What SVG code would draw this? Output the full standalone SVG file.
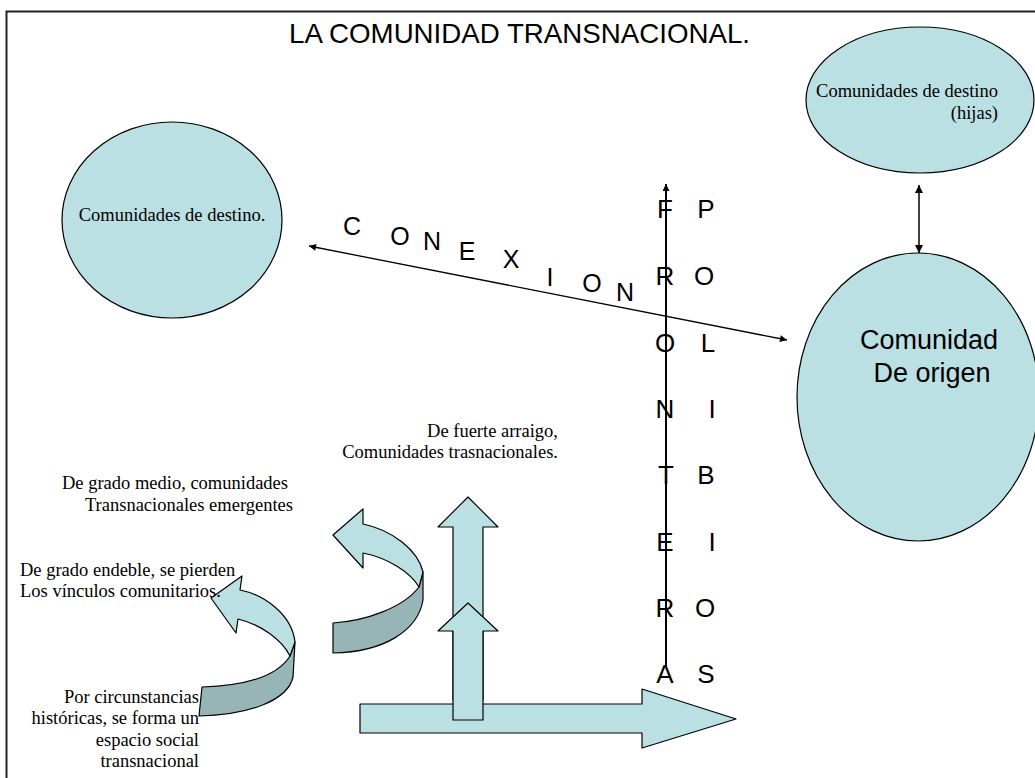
<svg xmlns="http://www.w3.org/2000/svg" width="1035" height="778" viewBox="0 0 1035 778">
<defs>
<style>
.serif{font-family:"Liberation Serif","Times New Roman",serif;font-size:18.5px;fill:#000}
.sans{font-family:"Liberation Sans",Arial,sans-serif;fill:#000}
.big{font-size:26px;text-anchor:middle}
.node{fill:#BBE0E3;stroke:#000;stroke-width:1.2}
.dark{fill:#97B4B7;stroke:#000;stroke-width:1.2;stroke-linejoin:round}
.light{fill:#BBE0E3;stroke:#000;stroke-width:1.2;stroke-linejoin:round}
.conn{stroke:#000;fill:none}
</style>
<marker id="ah" viewBox="0 0 10 10" refX="10" refY="5" markerWidth="10" markerHeight="8" markerUnits="userSpaceOnUse" orient="auto-start-reverse">
<path d="M0,0 L10,5 L0,10 Z" fill="#000"/>
</marker>
<marker id="ahs" viewBox="0 0 10 10" refX="10" refY="5" markerWidth="9" markerHeight="7" markerUnits="userSpaceOnUse" orient="auto-start-reverse">
<path d="M0,0 L10,5 L0,10 Z" fill="#000"/>
</marker>
</defs>
<rect width="1035" height="778" fill="#fff"/>
<rect x="6.5" y="11.5" width="1100" height="850" fill="none" stroke="#222" stroke-width="2"/>
<text class="sans" x="289" y="43" font-size="27.7">LA COMUNIDAD TRANSNACIONAL.</text>

<g id="destino">
<ellipse class="node" cx="172" cy="220" rx="110" ry="98"/>
<text class="serif" x="172" y="221" text-anchor="middle">Comunidades de destino.</text>
</g>
<g id="hijas">
<ellipse class="node" cx="920" cy="100" rx="114" ry="73"/>
<text class="serif" x="998" y="97" text-anchor="end">Comunidades de destino</text>
<text class="serif" x="998" y="119" text-anchor="end">(hijas)</text>
</g>
<g id="origen">
<ellipse class="node" cx="918" cy="397" rx="121" ry="144"/>
<text class="sans" x="929" y="349" font-size="27" text-anchor="middle">Comunidad</text>
<text class="sans" x="932" y="382" font-size="27" text-anchor="middle">De origen</text>
</g>

<g id="conexion" class="sans" font-size="25" text-anchor="middle">
<text x="352" y="235">C</text>
<text x="400" y="245">O</text>
<text x="432" y="250">N</text>
<text x="467" y="260">E</text>
<text x="511" y="268">X</text>
<text x="550" y="286">I</text>
<text x="592" y="292">O</text>
<text x="625" y="301">N</text>
</g>
<g id="fronteras" class="sans big">
<text x="665" y="218">F</text>
<text x="665" y="285">R</text>
<text x="665" y="352">O</text>
<text x="665" y="418">N</text>
<text x="666" y="484">T</text>
<text x="665" y="551">E</text>
<text x="665" y="617">R</text>
<text x="665" y="683">A</text>
</g>
<g id="polibios" class="sans big">
<text x="706" y="218">P</text>
<text x="704" y="285">O</text>
<text x="708" y="352">L</text>
<text x="712" y="418">I</text>
<text x="706" y="484">B</text>
<text x="712" y="551">I</text>
<text x="705" y="617">O</text>
<text x="706" y="683">S</text>
</g>

<g id="connectors">
<line class="conn" x1="309" y1="246" x2="787" y2="340" stroke-width="1.3" marker-start="url(#ahs)" marker-end="url(#ahs)"/>
<line class="conn" x1="919" y1="185" x2="919" y2="253" stroke-width="1.5" marker-start="url(#ah)" marker-end="url(#ah)"/>
<line class="conn" x1="666" y1="667" x2="666" y2="184" stroke-width="2" marker-end="url(#ahs)"/>
</g>

<g id="arrow-horizontal">
<polygon class="light" points="360,704 642,704 642,689 736,719 642,748 642,733 360,733"/>
</g>
<g id="arrow-up-high">
<polygon class="light" points="468,497 498,527 483,527 483,700 453,700 453,527 438,527"/>
</g>
<g id="arrow-up-low">
<polygon class="light" points="468,603 498,631 483,631 483,720 453,720 453,631 438,631"/>
</g>
<g id="curved-medio">
<path class="dark" d="M333,623 C365,621 403,608 419,587 L423,572 L423,600 C418,630 385,652 333,653 Z"/>
<path class="light" d="M333,535 L363,509 L363,524 C392,530 418,550 423,572 L419,587 C410,572 388,558 363,553 L363,568 Z"/>
</g>
<g id="curved-endeble">
<path class="dark" d="M202,687 C235,686 275,680 290,656 L295,642 L293,677 C288,700 250,715 199,716 Z"/>
<path class="light" d="M211,598 L242,576 L240,590 C265,595 292,615 295,642 L290,656 C282,640 262,625 238,619 L236,633 Z"/>
</g>

<g id="labels" class="serif">
<text x="558" y="437" text-anchor="end">De fuerte arraigo,</text>
<text x="558" y="458" text-anchor="end">Comunidades trasnacionales.</text>
<text x="288" y="489" text-anchor="end">De grado medio, comunidades</text>
<text x="293" y="511" text-anchor="end">Transnacionales emergentes</text>
<text x="20" y="576">De grado endeble, se pierden</text>
<text x="20" y="597">Los vínculos comunitarios.</text>
<text x="199" y="703" text-anchor="end">Por circunstancias</text>
<text x="199" y="724" text-anchor="end">históricas, se forma un</text>
<text x="199" y="746" text-anchor="end">espacio social</text>
<text x="199" y="767" text-anchor="end">transnacional</text>
</g>
</svg>
